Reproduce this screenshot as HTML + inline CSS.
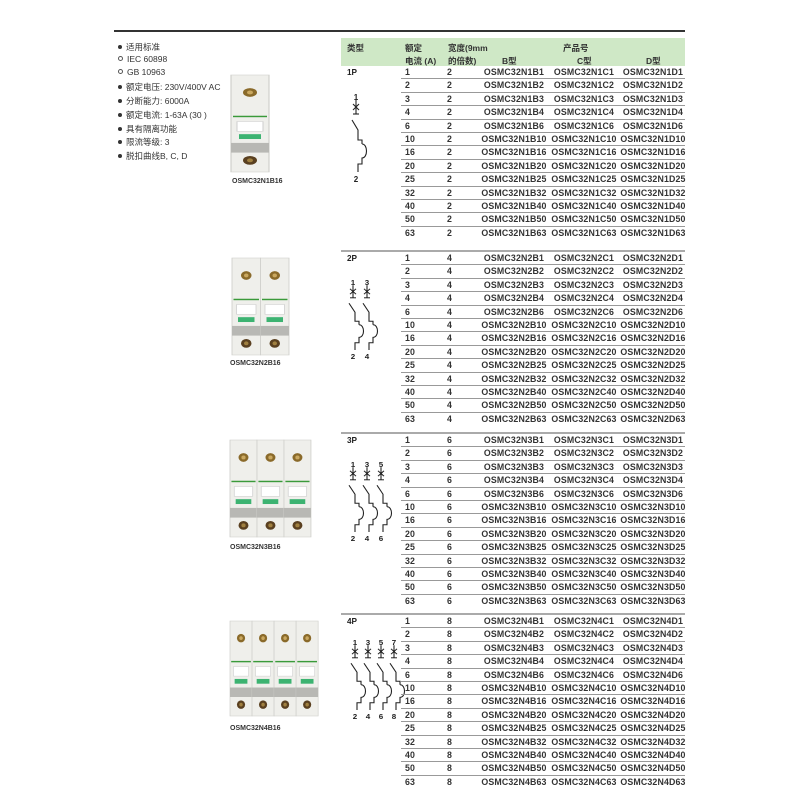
<!DOCTYPE html>
<html><head><meta charset="utf-8">
<style>
body{margin:0;width:801px;height:801px;background:#fff;position:relative;overflow:hidden;font-family:"Liberation Sans","Noto Sans CJK SC",sans-serif;color:#222}
.a{position:absolute}
.hl{position:absolute;left:114px;top:30px;width:571px;height:2px;background:#333}
.hdr{position:absolute;left:341px;top:38px;width:344px;height:28px;background:#cfe8c6}
.h{position:absolute;font-size:8.5px;font-weight:bold;color:#333}
.bl{position:absolute;left:118px;font-size:8.5px;color:#333;white-space:nowrap}
.bl i{display:inline-block;width:4px;height:4px;border-radius:50%;background:#333;margin-right:4px;vertical-align:1px}
.bl i.o{background:#fff;border:1px solid #555;width:3px;height:3px}
.g{position:absolute;left:341px;width:344px;border-top:2px solid #aaa}
.r{position:relative;height:13.4px;font-size:8.8px;font-weight:bold;color:#333;line-height:13.4px;letter-spacing:0.15px}
.r:not(:last-child):after{content:"";position:absolute;left:60px;right:0;bottom:0;height:1px;background:#999}
.r span{position:absolute;top:0}
.c1{left:64px}.c2{left:106px}
.cb{left:133px;width:80px;text-align:center}
.cc{left:203px;width:80px;text-align:center}
.cd{left:272px;width:80px;text-align:center}
.tp{position:absolute;left:6px;top:0;font-size:8.2px;font-weight:bold;line-height:13.4px}
.lbl{position:absolute;font-size:7px;font-weight:bold;color:#333}
</style></head><body>
<div class="hl"></div>
<div class="hdr"></div>
<div class="h" style="left:347px;top:42px">类型</div>
<div class="h" style="left:405px;top:42px">额定</div>
<div class="h" style="left:405px;top:55px">电流 (A)</div>
<div class="h" style="left:448px;top:42px">宽度(9mm</div>
<div class="h" style="left:448px;top:55px">的倍数)</div>
<div class="h" style="left:563px;top:42px">产品号</div>
<div class="h" style="left:502px;top:55px">B型</div>
<div class="h" style="left:577px;top:55px">C型</div>
<div class="h" style="left:646px;top:55px">D型</div>

<div class="bl" style="top:41px"><i></i>适用标准</div>
<div class="bl" style="top:54px"><i class="o"></i>IEC 60898</div>
<div class="bl" style="top:67px"><i class="o"></i>GB 10963</div>
<div class="bl" style="top:81px"><i></i>额定电压: 230V/400V AC</div>
<div class="bl" style="top:95px"><i></i>分断能力: 6000A</div>
<div class="bl" style="top:109px"><i></i>额定电流: 1-63A (30 )</div>
<div class="bl" style="top:123px"><i></i>具有隔离功能</div>
<div class="bl" style="top:136px"><i></i>限流等级: 3</div>
<div class="bl" style="top:150px"><i></i>脱扣曲线B, C, D</div>

<svg class="a" style="left:0;top:0" width="801" height="801">
<defs>
<g id="pole">
<rect x="0" y="0" width="19" height="100" fill="#efefeb" stroke="#d0d0cc" stroke-width=".6"/>
<ellipse cx="9.5" cy="18" rx="3.5" ry="4.5" fill="#8a6a2a"/><ellipse cx="9.5" cy="18" rx="1.5" ry="2" fill="#caa860"/>
<rect x="1" y="42" width="17" height="1.5" fill="#3a9a3a"/>
<rect x="3" y="48" width="13" height="10" fill="#fff" stroke="#ccc" stroke-width=".5"/>
<rect x="4" y="61" width="11" height="5" fill="#3cb371"/>
<rect x="0" y="70" width="19" height="10" fill="#b8b8b4"/>
<ellipse cx="9.5" cy="88" rx="3.5" ry="4.5" fill="#5a4020"/><ellipse cx="9.5" cy="88" rx="1.5" ry="2" fill="#a08040"/>
</g>
<g id="sym" fill="none" stroke="#222" stroke-width="1.1">
<line x1="0" y1="8" x2="0" y2="22"/>
<line x1="-3" y1="12" x2="3" y2="18"/><line x1="3" y1="12" x2="-3" y2="18"/>
<line x1="-3" y1="22" x2="3" y2="22"/>
<path d="M-4,28 L2,38 L2,48 L6,48 L6,52 M6,52 C12,52 12,66 6,66 L6,72 L2,72 L2,80"/>
</g>
</defs>
<g transform="translate(231,75) scale(2,0.97)"><use href="#pole"/></g>
<g transform="translate(232,258) scale(1.5,0.97)"><use href="#pole"/><use href="#pole" x="19"/></g>
<g transform="translate(230,440) scale(1.42,0.97)"><use href="#pole"/><use href="#pole" x="19"/><use href="#pole" x="38"/></g>
<g transform="translate(230,621) scale(1.16,0.95)"><use href="#pole"/><use href="#pole" x="19"/><use href="#pole" x="38"/><use href="#pole" x="57"/></g>
<g font-family="Liberation Sans" font-size="8" font-weight="bold" fill="#222" text-anchor="middle">
<g transform="translate(356,92)"><text x="0" y="8">1</text><use href="#sym"/><text x="0" y="90">2</text></g>
<g transform="translate(353,278) scale(1,0.9)"><text x="0" y="8">1</text><use href="#sym"/><text x="0" y="90">2</text></g>
<g transform="translate(367,278) scale(1,0.9)"><text x="0" y="8">3</text><use href="#sym"/><text x="0" y="90">4</text></g>
<g transform="translate(353,460) scale(1,0.9)"><text x="0" y="8">1</text><use href="#sym"/><text x="0" y="90">2</text></g>
<g transform="translate(367,460) scale(1,0.9)"><text x="0" y="8">3</text><use href="#sym"/><text x="0" y="90">4</text></g>
<g transform="translate(381,460) scale(1,0.9)"><text x="0" y="8">5</text><use href="#sym"/><text x="0" y="90">6</text></g>
<g transform="translate(355,638) scale(1,0.9)"><text x="0" y="8">1</text><use href="#sym"/><text x="0" y="90">2</text></g>
<g transform="translate(368,638) scale(1,0.9)"><text x="0" y="8">3</text><use href="#sym"/><text x="0" y="90">4</text></g>
<g transform="translate(381,638) scale(1,0.9)"><text x="0" y="8">5</text><use href="#sym"/><text x="0" y="90">6</text></g>
<g transform="translate(394,638) scale(1,0.9)"><text x="0" y="8">7</text><use href="#sym"/><text x="0" y="90">8</text></g>
</g>
</svg>
<div class="lbl" style="left:232px;top:178px">OSMC32N1B16</div>
<div class="lbl" style="left:230px;top:360px">OSMC32N2B16</div>
<div class="lbl" style="left:230px;top:544px">OSMC32N3B16</div>
<div class="lbl" style="left:230px;top:725px">OSMC32N4B16</div>

<div class="g" style="top:66px;border-top:0"><div class="tp">1P</div>
<div class="r"><span class="c1">1</span><span class="c2">2</span><span class="cb">OSMC32N1B1</span><span class="cc">OSMC32N1C1</span><span class="cd">OSMC32N1D1</span></div>
<div class="r"><span class="c1">2</span><span class="c2">2</span><span class="cb">OSMC32N1B2</span><span class="cc">OSMC32N1C2</span><span class="cd">OSMC32N1D2</span></div>
<div class="r"><span class="c1">3</span><span class="c2">2</span><span class="cb">OSMC32N1B3</span><span class="cc">OSMC32N1C3</span><span class="cd">OSMC32N1D3</span></div>
<div class="r"><span class="c1">4</span><span class="c2">2</span><span class="cb">OSMC32N1B4</span><span class="cc">OSMC32N1C4</span><span class="cd">OSMC32N1D4</span></div>
<div class="r"><span class="c1">6</span><span class="c2">2</span><span class="cb">OSMC32N1B6</span><span class="cc">OSMC32N1C6</span><span class="cd">OSMC32N1D6</span></div>
<div class="r"><span class="c1">10</span><span class="c2">2</span><span class="cb">OSMC32N1B10</span><span class="cc">OSMC32N1C10</span><span class="cd">OSMC32N1D10</span></div>
<div class="r"><span class="c1">16</span><span class="c2">2</span><span class="cb">OSMC32N1B16</span><span class="cc">OSMC32N1C16</span><span class="cd">OSMC32N1D16</span></div>
<div class="r"><span class="c1">20</span><span class="c2">2</span><span class="cb">OSMC32N1B20</span><span class="cc">OSMC32N1C20</span><span class="cd">OSMC32N1D20</span></div>
<div class="r"><span class="c1">25</span><span class="c2">2</span><span class="cb">OSMC32N1B25</span><span class="cc">OSMC32N1C25</span><span class="cd">OSMC32N1D25</span></div>
<div class="r"><span class="c1">32</span><span class="c2">2</span><span class="cb">OSMC32N1B32</span><span class="cc">OSMC32N1C32</span><span class="cd">OSMC32N1D32</span></div>
<div class="r"><span class="c1">40</span><span class="c2">2</span><span class="cb">OSMC32N1B40</span><span class="cc">OSMC32N1C40</span><span class="cd">OSMC32N1D40</span></div>
<div class="r"><span class="c1">50</span><span class="c2">2</span><span class="cb">OSMC32N1B50</span><span class="cc">OSMC32N1C50</span><span class="cd">OSMC32N1D50</span></div>
<div class="r"><span class="c1">63</span><span class="c2">2</span><span class="cb">OSMC32N1B63</span><span class="cc">OSMC32N1C63</span><span class="cd">OSMC32N1D63</span></div>
</div>

<div class="g" style="top:250px"><div class="tp">2P</div>
<div class="r"><span class="c1">1</span><span class="c2">4</span><span class="cb">OSMC32N2B1</span><span class="cc">OSMC32N2C1</span><span class="cd">OSMC32N2D1</span></div>
<div class="r"><span class="c1">2</span><span class="c2">4</span><span class="cb">OSMC32N2B2</span><span class="cc">OSMC32N2C2</span><span class="cd">OSMC32N2D2</span></div>
<div class="r"><span class="c1">3</span><span class="c2">4</span><span class="cb">OSMC32N2B3</span><span class="cc">OSMC32N2C3</span><span class="cd">OSMC32N2D3</span></div>
<div class="r"><span class="c1">4</span><span class="c2">4</span><span class="cb">OSMC32N2B4</span><span class="cc">OSMC32N2C4</span><span class="cd">OSMC32N2D4</span></div>
<div class="r"><span class="c1">6</span><span class="c2">4</span><span class="cb">OSMC32N2B6</span><span class="cc">OSMC32N2C6</span><span class="cd">OSMC32N2D6</span></div>
<div class="r"><span class="c1">10</span><span class="c2">4</span><span class="cb">OSMC32N2B10</span><span class="cc">OSMC32N2C10</span><span class="cd">OSMC32N2D10</span></div>
<div class="r"><span class="c1">16</span><span class="c2">4</span><span class="cb">OSMC32N2B16</span><span class="cc">OSMC32N2C16</span><span class="cd">OSMC32N2D16</span></div>
<div class="r"><span class="c1">20</span><span class="c2">4</span><span class="cb">OSMC32N2B20</span><span class="cc">OSMC32N2C20</span><span class="cd">OSMC32N2D20</span></div>
<div class="r"><span class="c1">25</span><span class="c2">4</span><span class="cb">OSMC32N2B25</span><span class="cc">OSMC32N2C25</span><span class="cd">OSMC32N2D25</span></div>
<div class="r"><span class="c1">32</span><span class="c2">4</span><span class="cb">OSMC32N2B32</span><span class="cc">OSMC32N2C32</span><span class="cd">OSMC32N2D32</span></div>
<div class="r"><span class="c1">40</span><span class="c2">4</span><span class="cb">OSMC32N2B40</span><span class="cc">OSMC32N2C40</span><span class="cd">OSMC32N2D40</span></div>
<div class="r"><span class="c1">50</span><span class="c2">4</span><span class="cb">OSMC32N2B50</span><span class="cc">OSMC32N2C50</span><span class="cd">OSMC32N2D50</span></div>
<div class="r"><span class="c1">63</span><span class="c2">4</span><span class="cb">OSMC32N2B63</span><span class="cc">OSMC32N2C63</span><span class="cd">OSMC32N2D63</span></div>
</div>

<div class="g" style="top:432px"><div class="tp">3P</div>
<div class="r"><span class="c1">1</span><span class="c2">6</span><span class="cb">OSMC32N3B1</span><span class="cc">OSMC32N3C1</span><span class="cd">OSMC32N3D1</span></div>
<div class="r"><span class="c1">2</span><span class="c2">6</span><span class="cb">OSMC32N3B2</span><span class="cc">OSMC32N3C2</span><span class="cd">OSMC32N3D2</span></div>
<div class="r"><span class="c1">3</span><span class="c2">6</span><span class="cb">OSMC32N3B3</span><span class="cc">OSMC32N3C3</span><span class="cd">OSMC32N3D3</span></div>
<div class="r"><span class="c1">4</span><span class="c2">6</span><span class="cb">OSMC32N3B4</span><span class="cc">OSMC32N3C4</span><span class="cd">OSMC32N3D4</span></div>
<div class="r"><span class="c1">6</span><span class="c2">6</span><span class="cb">OSMC32N3B6</span><span class="cc">OSMC32N3C6</span><span class="cd">OSMC32N3D6</span></div>
<div class="r"><span class="c1">10</span><span class="c2">6</span><span class="cb">OSMC32N3B10</span><span class="cc">OSMC32N3C10</span><span class="cd">OSMC32N3D10</span></div>
<div class="r"><span class="c1">16</span><span class="c2">6</span><span class="cb">OSMC32N3B16</span><span class="cc">OSMC32N3C16</span><span class="cd">OSMC32N3D16</span></div>
<div class="r"><span class="c1">20</span><span class="c2">6</span><span class="cb">OSMC32N3B20</span><span class="cc">OSMC32N3C20</span><span class="cd">OSMC32N3D20</span></div>
<div class="r"><span class="c1">25</span><span class="c2">6</span><span class="cb">OSMC32N3B25</span><span class="cc">OSMC32N3C25</span><span class="cd">OSMC32N3D25</span></div>
<div class="r"><span class="c1">32</span><span class="c2">6</span><span class="cb">OSMC32N3B32</span><span class="cc">OSMC32N3C32</span><span class="cd">OSMC32N3D32</span></div>
<div class="r"><span class="c1">40</span><span class="c2">6</span><span class="cb">OSMC32N3B40</span><span class="cc">OSMC32N3C40</span><span class="cd">OSMC32N3D40</span></div>
<div class="r"><span class="c1">50</span><span class="c2">6</span><span class="cb">OSMC32N3B50</span><span class="cc">OSMC32N3C50</span><span class="cd">OSMC32N3D50</span></div>
<div class="r"><span class="c1">63</span><span class="c2">6</span><span class="cb">OSMC32N3B63</span><span class="cc">OSMC32N3C63</span><span class="cd">OSMC32N3D63</span></div>
</div>

<div class="g" style="top:613px"><div class="tp">4P</div>
<div class="r"><span class="c1">1</span><span class="c2">8</span><span class="cb">OSMC32N4B1</span><span class="cc">OSMC32N4C1</span><span class="cd">OSMC32N4D1</span></div>
<div class="r"><span class="c1">2</span><span class="c2">8</span><span class="cb">OSMC32N4B2</span><span class="cc">OSMC32N4C2</span><span class="cd">OSMC32N4D2</span></div>
<div class="r"><span class="c1">3</span><span class="c2">8</span><span class="cb">OSMC32N4B3</span><span class="cc">OSMC32N4C3</span><span class="cd">OSMC32N4D3</span></div>
<div class="r"><span class="c1">4</span><span class="c2">8</span><span class="cb">OSMC32N4B4</span><span class="cc">OSMC32N4C4</span><span class="cd">OSMC32N4D4</span></div>
<div class="r"><span class="c1">6</span><span class="c2">8</span><span class="cb">OSMC32N4B6</span><span class="cc">OSMC32N4C6</span><span class="cd">OSMC32N4D6</span></div>
<div class="r"><span class="c1">10</span><span class="c2">8</span><span class="cb">OSMC32N4B10</span><span class="cc">OSMC32N4C10</span><span class="cd">OSMC32N4D10</span></div>
<div class="r"><span class="c1">16</span><span class="c2">8</span><span class="cb">OSMC32N4B16</span><span class="cc">OSMC32N4C16</span><span class="cd">OSMC32N4D16</span></div>
<div class="r"><span class="c1">20</span><span class="c2">8</span><span class="cb">OSMC32N4B20</span><span class="cc">OSMC32N4C20</span><span class="cd">OSMC32N4D20</span></div>
<div class="r"><span class="c1">25</span><span class="c2">8</span><span class="cb">OSMC32N4B25</span><span class="cc">OSMC32N4C25</span><span class="cd">OSMC32N4D25</span></div>
<div class="r"><span class="c1">32</span><span class="c2">8</span><span class="cb">OSMC32N4B32</span><span class="cc">OSMC32N4C32</span><span class="cd">OSMC32N4D32</span></div>
<div class="r"><span class="c1">40</span><span class="c2">8</span><span class="cb">OSMC32N4B40</span><span class="cc">OSMC32N4C40</span><span class="cd">OSMC32N4D40</span></div>
<div class="r"><span class="c1">50</span><span class="c2">8</span><span class="cb">OSMC32N4B50</span><span class="cc">OSMC32N4C50</span><span class="cd">OSMC32N4D50</span></div>
<div class="r"><span class="c1">63</span><span class="c2">8</span><span class="cb">OSMC32N4B63</span><span class="cc">OSMC32N4C63</span><span class="cd">OSMC32N4D63</span></div>
</div>
</body></html>
